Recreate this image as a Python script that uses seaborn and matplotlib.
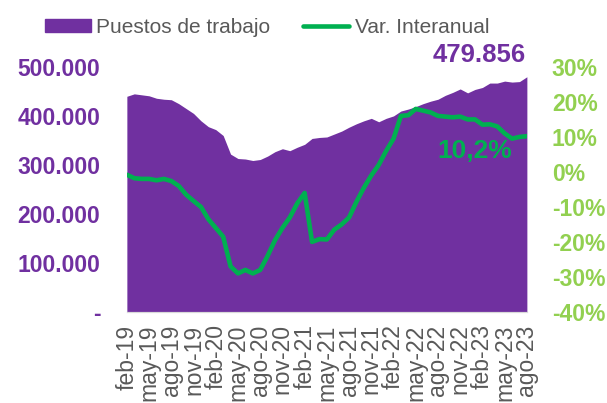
from matplotlib import pyplot as plt
from matplotlib import transforms
from matplotlib.patches import Patch
from matplotlib.lines import Line2D
import numpy as np
import pandas as pd
import seaborn as sns

# --------------------------------------------------------
# Data (feb-19 .. ago-23)
# --------------------------------------------------------
meses = ["ene", "feb", "mar", "abr", "may", "jun",
         "jul", "ago", "sep", "oct", "nov", "dic"]

periodos = []
for year in range(19, 24):
    for m in meses:
        periodos.append(f"{m}-{year}")
periodos = periodos[1:periodos.index("ago-23") + 1]

puestos = [
    440, 445, 443, 441, 436, 434, 433, 425, 415, 405, 390, 378,
    372, 360, 322, 313, 312, 309, 311, 318, 327, 333, 329, 336,
    342, 354, 356, 357, 363, 369, 377, 384, 390, 395, 388, 395,
    400, 410, 414, 419, 425, 430, 434, 442, 448, 455, 447, 454,
    458, 467, 467, 471, 469, 470, 479.856,
]
puestos = [p * 1000 for p in puestos]

var_interanual = [
    -0.8, -1.8, -2.0, -2.0, -2.4, -2.0, -2.6, -4.0, -6.5, -8.3, -10.0, -13.5,
    -16.0, -18.5, -27.0, -29.0, -28.0, -29.0, -28.0, -24.0, -19.5, -16.0, -13.0, -9.0,
    -6.0, -20.0, -19.2, -19.3, -16.5, -15.0, -13.0, -8.5, -4.5, -1.0, 2.0, 6.0,
    9.5, 16.0, 16.2, 18.0, 17.5, 17.0, 16.0, 15.8, 15.6, 15.8, 15.0, 15.0,
    13.5, 13.6, 13.0, 11.0, 9.5, 10.0, 10.2,
]

df = pd.DataFrame({
    "periodo": periodos,
    "puestos": puestos,
    "var": var_interanual,
})
df["idx"] = np.arange(len(df))

# --------------------------------------------------------
# Style
# --------------------------------------------------------
sns.set_style("white")
plt.rcParams["font.family"] = ["Liberation Sans", "DejaVu Sans"]

purple = "#7030A0"
green = "#00B050"
light_green = "#92D050"
grey = "#595959"

fig = plt.figure(figsize=(6.07, 4.03), dpi=100)
ax = fig.add_axes([0.209, 0.226, 0.659, 0.608])

ax.fill_between(df["idx"], df["puestos"], color=purple, lw=0)
ax.set_xlim(0, len(df) - 1)
ax.set_ylim(0, 500000)

ax2 = ax.twinx()
sns.lineplot(data=df, x="idx", y="var", ax=ax2, color=green, lw=3.3)
ax2.set_ylim(-40, 30)

# --------------------------------------------------------
# Axes
# --------------------------------------------------------
ax.set_yticks(np.arange(0, 500001, 100000))
ax.set_yticklabels(["-" if v == 0 else f"{v:,.0f}".replace(",", ".")
                    for v in ax.get_yticks()],
                   color=purple, fontsize=16.5, fontweight="bold")
ax.tick_params(axis="y", length=0, pad=19)

ax2.set_yticks(np.arange(-40, 31, 10))
ax2.set_yticklabels([f"{v:.0f}%" for v in ax2.get_yticks()],
                    color=light_green, fontsize=16.5, fontweight="bold")
ax2.tick_params(axis="y", length=0, pad=18)

ticks = df["idx"][::3]
ax.set_xticks(ticks)
ax.set_xticklabels(df["periodo"][::3], rotation=90, fontsize=16.5, color=grey)
ax.tick_params(axis="x", length=5, width=1, color="#D9D9D9", pad=4)

for a in (ax, ax2):
    for side in ["top", "left", "right"]:
        a.spines[side].set_visible(False)
    a.spines["bottom"].set_color("#D9D9D9")
    a.set_xlabel("")
    a.set_ylabel("")

# --------------------------------------------------------
# Labels
# --------------------------------------------------------
last = df.iloc[-1]
trans = transforms.blended_transform_factory(ax.transData, ax.transAxes)
ax.text(last["idx"] - 0.2, 1.0, f"{last['puestos']:,.0f}".replace(",", "."),
        transform=trans, ha="right", va="bottom",
        color=purple, fontsize=18.5, fontweight="bold")

ax2.text(last["idx"] - 2, last["var"] - 4.2,
         f"{last['var']:.1f}%".replace(".", ","),
         ha="right", va="center", color=green, fontsize=19, fontweight="bold")

# --------------------------------------------------------
# Legend
# --------------------------------------------------------
handles = [Patch(color=purple, label="Puestos de trabajo"),
           Line2D([0], [0], color=green, lw=3.3, label="Var. Interanual")]
fig.legend(handles=handles, loc="center", bbox_to_anchor=(267 / 607, 0.933),
           ncol=2, frameon=False, fontsize=15, labelcolor=grey,
           handlelength=2.2, handleheight=0.6, handletextpad=0.25,
           columnspacing=1.6)

fig.savefig("out.png", dpi=100)
